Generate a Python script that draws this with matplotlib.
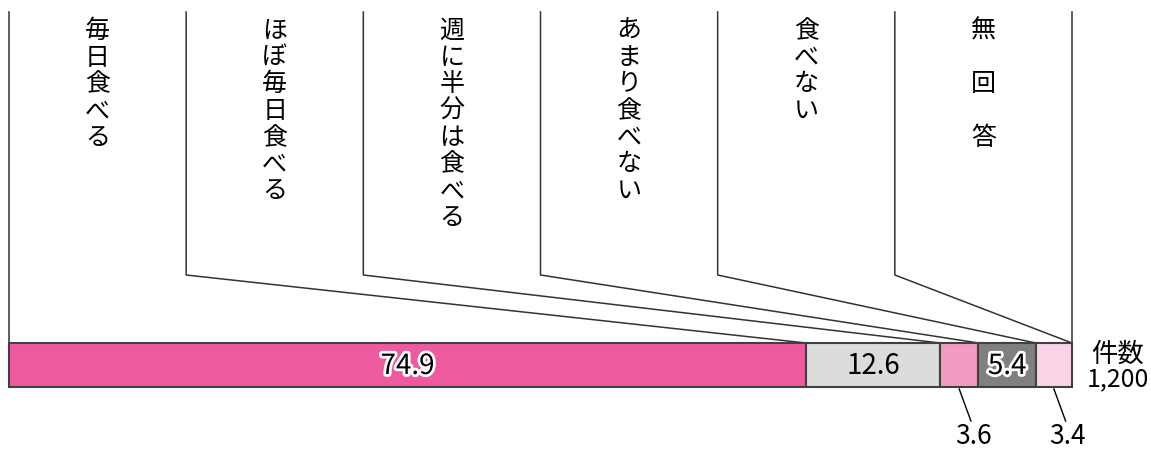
import matplotlib.pyplot as plt
import matplotlib.patheffects as pe
import numpy as np

plt.rcParams['font.family'] = ['Noto Sans CJK JP', 'DejaVu Sans']

# answer categories and shares (%)
categories = ['毎日食べる', 'ほぼ毎日食べる', '週に半分は食べる', 'あまり食べない', '食べない', '無　回　答']
values = [74.9, 12.6, 3.6, 5.4, 3.4]
value_labels = ['74.9', '12.6', '3.6', '5.4', '3.4']
colors = ['#ED5B9E', '#DCDCDC', '#F39AC3', '#808080', '#F9D4E6']
n_total = '1,200'

total = sum(values)
left = np.concatenate([[0], np.cumsum(values)[:-1]])
right = np.cumsum(values)

W, H = 1151, 450
x0_px, x1_px = 9, 1072
fig = plt.figure(figsize=(W / 100, H / 100), dpi=100)
ax = fig.add_axes([0, 0, 1, 1])
scale = total / (x1_px - x0_px)
ax.set_xlim(-x0_px * scale, total + (W - x1_px) * scale)
ax.set_ylim(H, 0)
ax.axis('off')

bar_y, bar_h = 365, 44
bar_top = bar_y - bar_h / 2
bar_bot = bar_y + bar_h / 2

ax.barh(bar_y, values, left=left, height=bar_h, color=colors,
        edgecolor='#404040', linewidth=1.5, zorder=3)

# values inside the bar
outlined = [True, False, None, True, None]
for i, lab in enumerate(value_labels):
    cx = left[i] + values[i] / 2
    if outlined[i] is None:
        # small shares go below with a leader line
        ax.plot([cx, cx + 1.1], [bar_bot + 2, 421], color='black', lw=1)
        ax.text(cx + 1.3, 436, lab, ha='center', va='center', fontsize=19)
    else:
        t = ax.text(cx, bar_y + 1, lab, ha='center', va='center', fontsize=20, zorder=4)
        if outlined[i]:
            t.set_path_effects([pe.withStroke(linewidth=4, foreground='white')])

# header columns with vertical labels and connectors
ncol = len(categories)
col_w = total / ncol
top_y, kink_y = 12, 275
lc = '#333333'
for i in range(ncol + 1):
    xb = i * col_w
    if i == 0 or i == ncol:
        ax.plot([xb, xb], [top_y, bar_top], color=lc, lw=1.1)
    else:
        ax.plot([xb, xb, right[i - 1]], [top_y, kink_y, bar_top], color=lc, lw=1.1)

pitch = 26.7
for i, cat in enumerate(categories):
    cx = (i + 0.5) * col_w
    for j, ch in enumerate(cat):
        if ch.strip():
            ax.text(cx, 31 + j * pitch, ch, ha='center', va='center', fontsize=18)

# sample size
ax.text(total + 46 * scale, 354, '件数', ha='center', va='center', fontsize=19)
ax.text(total + 46 * scale, 379, n_total, ha='center', va='center', fontsize=18)

fig.savefig('out.png', dpi=100)
